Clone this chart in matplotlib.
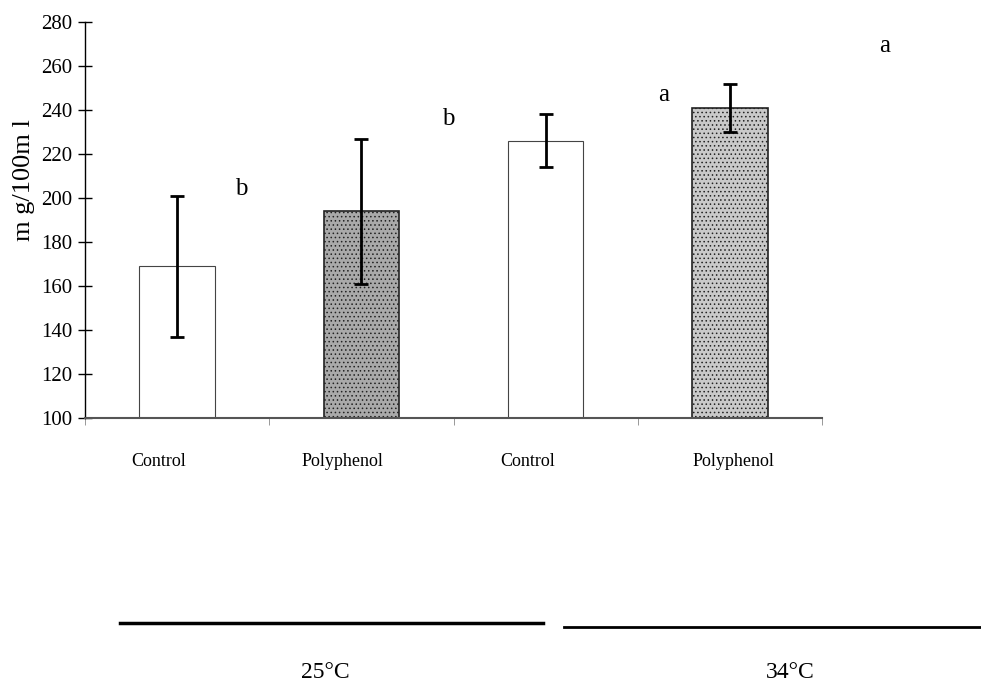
import matplotlib.pyplot as plt
from matplotlib.lines import Line2D
import numpy as np

plt.rcParams['font.family'] = ['Liberation Serif', 'DejaVu Serif']
plt.rcParams['hatch.linewidth'] = 0.6

# data
categories = ["Control", "Polyphenol", "Control", "Polyphenol"]
means = [169, 194, 226, 241]
errors = [32, 33, 12, 11]
letters = ["b", "b", "a", "a"]
groups = ["25°C", "34°C"]

x = np.arange(len(categories))
fills = ["white", "#a9a9a9", "white", "#c9c9c9"]
hatches = [None, "....", None, "...."]

fig = plt.figure(figsize=(9.81, 6.86), dpi=100)
ax = fig.add_axes([0.0866, 0.3907, 0.7514, 0.5773])

for i in range(len(x)):
    ax.bar(x[i], means[i] - 100, bottom=100, width=0.41, color=fills[i],
           edgecolor="#222222" if hatches[i] else "#444444",
           linewidth=1.2 if hatches[i] else 0.8, hatch=hatches[i], zorder=2)
ax.errorbar(x, means, yerr=errors, fmt="none", ecolor="black", elinewidth=2,
            capsize=5, capthick=2, zorder=3)

# significance letters
letter_x = [0.35, 1.47, 2.64, 3.84]
letter_y = [204, 236, 247, 269]
for lx, ly, t in zip(letter_x, letter_y, letters):
    ax.text(lx, ly, t, fontsize=18, ha="center", va="center", clip_on=False)

ax.set_xlim(-0.5, 3.5)
ax.set_ylim(100, 280)
ax.set_yticks(np.arange(100, 281, 20))
ax.tick_params(axis="y", direction="inout", length=10, width=1, labelsize=15, pad=4)
ax.set_xticks(np.arange(-0.5, 3.6, 1))
ax.set_xticklabels([])
ax.tick_params(axis="x", direction="out", length=5, width=0.6, color="#888888")
for s in ["top", "right"]:
    ax.spines[s].set_visible(False)
ax.spines["left"].set_linewidth(1)
ax.spines["bottom"].set_linewidth(1.5)
ax.spines["bottom"].set_color("#555555")

for xi, c in zip(x, categories):
    off = -0.1 if xi < 3 else 0.02
    ax.text(xi + off, 80, c, fontsize=13, ha="center", va="center", clip_on=False)

ax.set_ylabel("m g/100m l", fontsize=19, labelpad=4)
ax.yaxis.set_label_coords(-0.068, 0.6)

# group lines and temperature labels
fig.add_artist(Line2D([120 / 981, 543 / 981], [1 - 623 / 686] * 2, color="black", lw=2.5))
fig.add_artist(Line2D([564 / 981, 981 / 981], [1 - 627 / 686] * 2, color="black", lw=2))
fig.text(325 / 981, 1 - 672 / 686, groups[0], fontsize=17, ha="center", va="center")
fig.text(790 / 981, 1 - 672 / 686, groups[1], fontsize=17, ha="center", va="center")

fig.savefig("out.png", dpi=100)
